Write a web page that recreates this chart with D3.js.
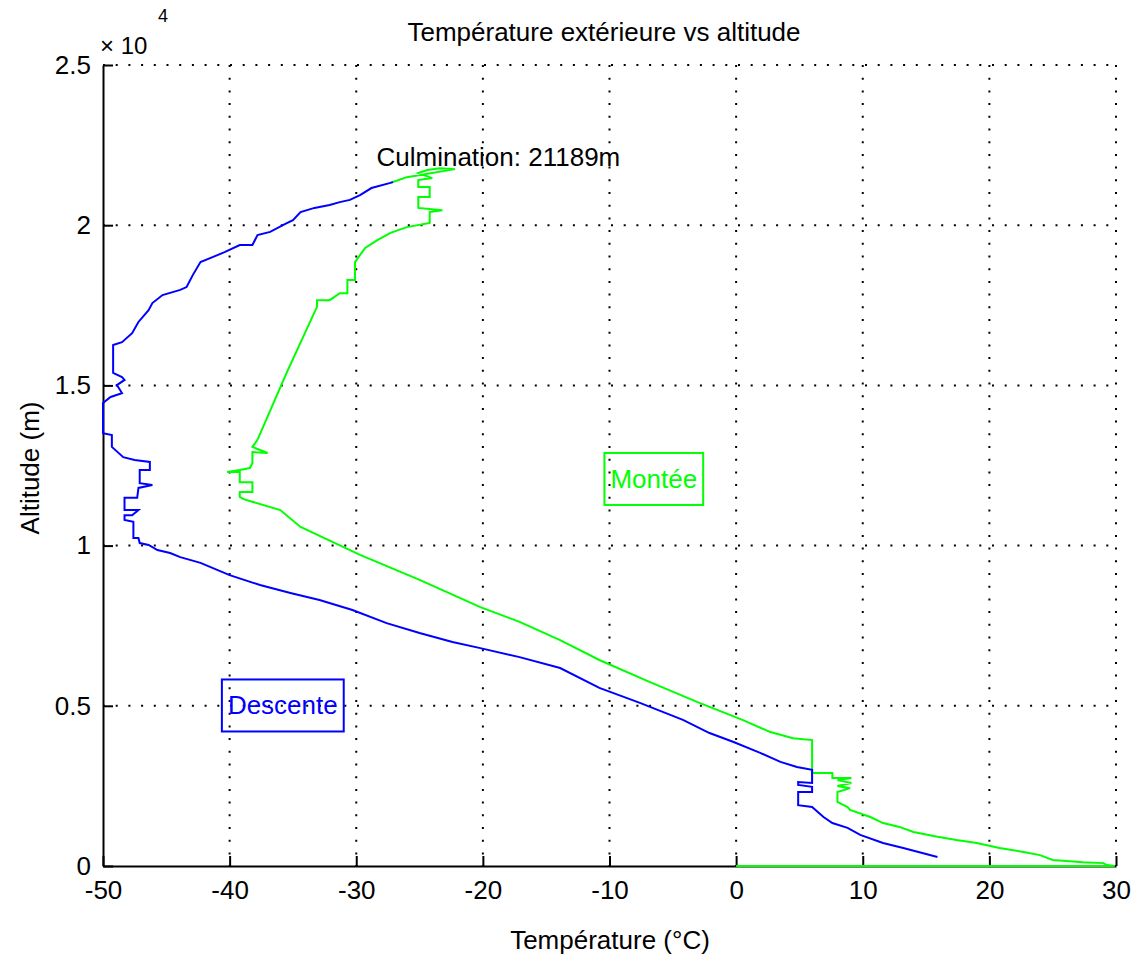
<!DOCTYPE html>
<html>
<head>
<meta charset="utf-8">
<script src="https://cdn.jsdelivr.net/npm/d3@7"></script>
<style>
  body { margin: 0; background: #fff; }
  text { font-family: "Liberation Sans", Arial, sans-serif; }
</style>
</head>
<body>
<script>
'use strict';

// ticks
var xTicks = [-50, -40, -30, -20, -10, 0, 10, 20, 30];
var yTicks = [0, 5000, 10000, 15000, 20000, 25000];
var yTickLabels = ["0", "0.5", "1", "1.5", "2", "2.5"];

// [température (°C), altitude (m)]
var montee = [
  [0, 0], [29.9, 0], [29.3, 30], [29.0, 90], [27.4, 120], [25.0, 190], [24.0, 340], [22.7, 440],
  [20.8, 560], [19.0, 720], [17.4, 810], [15.9, 910], [14.0, 1060], [12.9, 1220], [11.6, 1340],
  [10.6, 1530], [9.0, 1750], [8.8, 1840], [8.0, 2000], [8.0, 2310], [9.0, 2430], [8.0, 2500],
  [9.1, 2590], [8.0, 2680], [9.1, 2750], [7.6, 2750], [7.6, 2900], [6.0, 2900], [6.0, 3930],
  [4.5, 3990], [2.7, 4180], [0.5, 4560], [-2.9, 5090], [-6.8, 5740], [-10.8, 6430], [-13.9, 7050],
  [-17.1, 7620], [-20.2, 8080], [-25.0, 8930], [-29.7, 9710], [-34.4, 10580], [-36.0, 11110],
  [-38.9, 11450], [-39.2, 11520], [-39.2, 11670], [-38.2, 11670], [-38.2, 11980], [-39.2, 11980],
  [-39.2, 12300], [-40.2, 12300], [-39.2, 12360], [-38.4, 12420], [-38.2, 12580], [-38.2, 12920],
  [-37.0, 12890], [-38.2, 13080], [-37.8, 13300], [-35.5, 15390], [-33.1, 17450], [-33.1, 17660],
  [-32.1, 17660], [-31.3, 17880], [-30.7, 17880], [-30.7, 18290], [-30.1, 18290], [-30.1, 18850],
  [-29.3, 19290], [-28.3, 19540], [-27.3, 19760], [-26.0, 19940], [-24.2, 20070], [-24.2, 20410],
  [-23.2, 20470], [-25.1, 20540], [-25.1, 20880], [-24.2, 20880], [-24.2, 21190], [-25.1, 21190],
  [-25.1, 21410], [-24.0, 21470], [-25.1, 21630], [-24.4, 21720], [-23.4, 21780], [-22.2, 21750],
  [-26.0, 21500], [-27.1, 21350]
];

var descente = [
  [-27.1, 21350], [-27.3, 21320], [-28.8, 21160], [-29.7, 20940], [-30.5, 20790], [-31.3, 20720],
  [-32.1, 20630], [-33.3, 20540], [-34.4, 20410], [-35.0, 20160], [-35.6, 20040], [-36.8, 19790],
  [-37.8, 19690], [-38.2, 19380], [-39.2, 19380], [-40.4, 19160], [-41.3, 19010], [-42.3, 18850],
  [-42.9, 18450], [-43.4, 18070], [-43.9, 17980], [-45.3, 17820], [-46.1, 17570], [-46.4, 17350],
  [-47.2, 16980], [-47.7, 16630], [-48.5, 16350], [-49.2, 16260], [-49.2, 15390], [-48.5, 15260],
  [-48.3, 15170], [-48.9, 15010], [-48.5, 14760], [-49.4, 14640], [-50.0, 14450], [-50.0, 13510],
  [-49.3, 13450], [-49.3, 13080], [-48.4, 12760], [-47.5, 12670], [-46.3, 12610], [-46.3, 12360],
  [-47.1, 12360], [-47.1, 11950], [-46.1, 11890], [-47.2, 11800], [-47.3, 11490], [-48.3, 11490],
  [-48.3, 11110], [-47.2, 11110], [-47.7, 10950], [-48.3, 10950], [-48.3, 10800], [-47.6, 10740],
  [-47.6, 10240], [-47.2, 10240], [-47.1, 10080], [-46.4, 10020], [-45.7, 9860], [-44.7, 9770],
  [-43.9, 9640], [-42.3, 9460], [-40.0, 9080], [-37.6, 8770], [-35.2, 8520], [-32.9, 8300],
  [-30.3, 7990], [-27.6, 7580], [-25.0, 7270], [-22.4, 6990], [-20.2, 6800], [-17.1, 6520],
  [-13.9, 6180], [-10.8, 5560], [-7.6, 5090], [-4.2, 4560], [-2.1, 4150], [-0.2, 3870],
  [1.9, 3530], [3.5, 3250], [4.8, 3090], [6.0, 3000], [6.0, 2590], [4.9, 2620], [4.9, 2530],
  [6.0, 2470], [6.0, 2310], [4.9, 2310], [4.9, 1900], [6.0, 1840], [6.9, 1530], [7.6, 1340],
  [8.8, 1190], [9.8, 970], [11.6, 720], [13.2, 560], [15.9, 280]
];

var W = 1135, H = 955;
var margin = {top: 65, right: 19, bottom: 89, left: 103};
var width = W - margin.left - margin.right,
    height = H - margin.top - margin.bottom;

var svg = d3.select("body").append("svg")
    .attr("width", W).attr("height", H);

var g = svg.append("g")
    .attr("transform", "translate(" + margin.left + "," + margin.top + ")");

var x = d3.scaleLinear().domain([-50, 30]).range([0, width]);
var y = d3.scaleLinear().domain([0, 25000]).range([height, 0]);

// dotted grid
g.selectAll(".gx").data(xTicks.slice(1)).enter().append("line")
    .attr("x1", function(d){return x(d);}).attr("x2", function(d){return x(d);})
    .attr("y1", 0).attr("y2", height)
    .style("stroke", "#000").style("stroke-width", 2)
    .style("stroke-dasharray", "2,10.7");
g.selectAll(".gy").data(yTicks.slice(1)).enter().append("line")
    .attr("y1", function(d){return y(d);}).attr("y2", function(d){return y(d);})
    .attr("x1", 0).attr("x2", width)
    .style("stroke", "#000").style("stroke-width", 2)
    .style("stroke-dasharray", "2,10.7");

// axes
var xAxis = d3.axisBottom(x).tickValues(xTicks).tickSizeInner(-10).tickSizeOuter(0)
    .tickPadding(15).tickFormat(function(d){return String(d);});
var yAxis = d3.axisLeft(y).tickValues(yTicks).tickSizeInner(-10).tickSizeOuter(0)
    .tickPadding(12).tickFormat(function(d, i){return yTickLabels[i];});

var ax = g.append("g").attr("transform", "translate(0," + height + ")").call(xAxis);
var ay = g.append("g").call(yAxis);
[ax, ay].forEach(function(a){
    a.selectAll("path, line").style("stroke", "#000").style("stroke-width", 2);
    a.selectAll("text").style("font-size", "26px").style("fill", "#000")
        .style("font-family", '"Liberation Sans", Arial, sans-serif');
});

// lines
var line = d3.line()
    .x(function(d){return x(d[0]);})
    .y(function(d){return y(d[1]);});

g.append("path").datum(montee)
    .attr("d", line)
    .style("fill", "none").style("stroke", "#00ff00").style("stroke-width", 2);
g.append("path").datum(descente)
    .attr("d", line)
    .style("fill", "none").style("stroke", "#0000ff").style("stroke-width", 2);

// annotations
g.append("text").text("Culmination: 21189m")
    .attr("x", x(-28.4)).attr("y", y(22130))
    .attr("dominant-baseline", "central")
    .style("font-size", "26px");

function boxedLabel(txt, tx, ty, color) {
    var t = g.append("text").text(txt)
        .attr("x", x(tx)).attr("y", y(ty))
        .attr("text-anchor", "middle").attr("dominant-baseline", "central")
        .style("font-size", "26px").style("fill", color);
    var b = t.node().getBBox();
    g.append("rect")
        .attr("x", b.x - 6).attr("y", y(ty) - 26)
        .attr("width", b.width + 12).attr("height", 52)
        .style("fill", "none").style("stroke", color).style("stroke-width", 2);
}
boxedLabel("Montée", -6.5, 12080, "#00ff00");
boxedLabel("Descente", -35.8, 5010, "#0000ff");

// title, labels, exponent
svg.append("text").text("Température extérieure vs altitude")
    .attr("x", 604).attr("y", 32)
    .attr("text-anchor", "middle").attr("dominant-baseline", "central")
    .style("font-size", "26px");
svg.append("text").text("Température (°C)")
    .attr("x", 610).attr("y", 940)
    .attr("text-anchor", "middle").attr("dominant-baseline", "central")
    .style("font-size", "26px");
svg.append("text").text("Altitude (m)")
    .attr("transform", "translate(30,468) rotate(-90)")
    .attr("text-anchor", "middle").attr("dominant-baseline", "central")
    .style("font-size", "26px");
svg.append("text").text("× 10")
    .attr("x", 100).attr("y", 45)
    .attr("dominant-baseline", "central")
    .style("font-size", "24px");
svg.append("text").text("4")
    .attr("x", 158).attr("y", 16)
    .attr("dominant-baseline", "central")
    .style("font-size", "18px");
</script>
</body>
</html>
